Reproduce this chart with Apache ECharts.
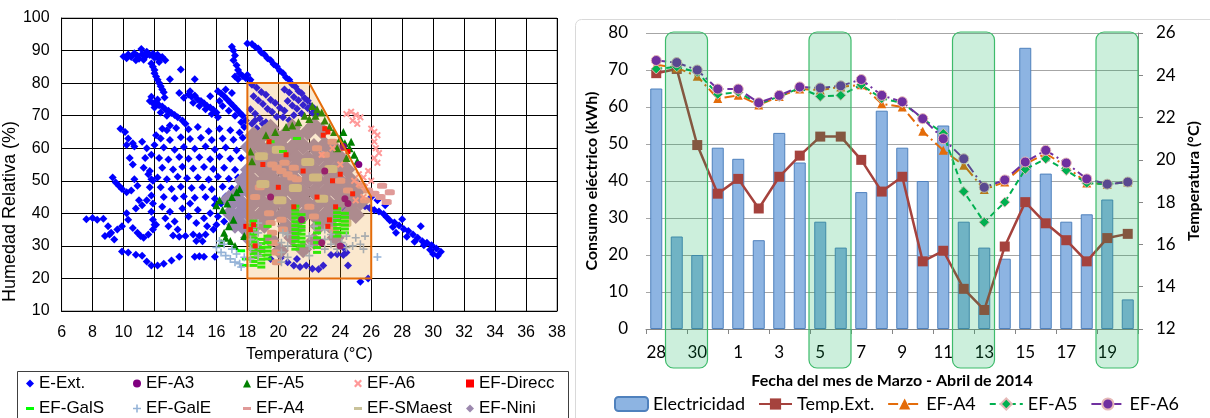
<!DOCTYPE html>
<html><head><meta charset="utf-8">
<script src="https://cdn.jsdelivr.net/npm/echarts@6/dist/echarts.min.js"></script>
<style>html,body{margin:0;padding:0;background:#fff}#c{width:1210px;height:418px}</style>
</head><body><div id="c"></div>
<script>
// ================= LEFT CHART DATA (Temperatura °C, Humedad Relativa %) =================
const eExt = [
[10.0,88.2],[10.2,87.6],[10.3,88.8],[10.5,88.0],[10.7,89.2],[10.9,88.4],[11.0,87.5],[11.2,88.9],[11.15,90.5],[11.4,88.1],[11.5,89.6],[11.7,88.6],[11.9,89.0],[12.0,87.8],[12.2,88.7],[12.3,87.3],[12.5,88.0],[11.3,87.2],[10.8,87.0],[12.7,87.0],
[11.8,86.0],[11.9,85.0],[12.0,84.0],[12.0,83.0],[12.1,82.0],[12.2,81.0],[12.3,80.0],[12.4,79.0],[12.5,78.0],[12.6,77.2],[12.3,86.5],[12.65,75.6],
[13.7,84.2],[13.0,81.2],[14.6,81.2],[13.6,77.0],[15.6,76.0],
[17.0,91.2],[17.1,90.0],[17.2,88.5],[17.1,87.0],[17.3,85.5],[17.4,84.0],[17.5,83.0],[17.7,82.2],[17.9,81.5],[18.0,82.5],[18.2,81.0],[18.0,92.2],[18.3,92.0],[17.2,82.0],[17.4,81.2],
[18.5,91.2],[18.7,90.6],[18.9,89.4],[19.1,88.8],[19.3,87.6],[19.5,87.0],[19.7,85.8],[19.9,85.1],[20.1,83.8],[20.3,83.0],[20.5,81.7],[20.7,81.0],[20.9,79.6],[21.1,78.9],[21.3,77.6],[21.5,76.9],[21.7,75.4],[21.9,74.6],[22.1,73.0],[22.3,72.3],[22.5,70.6],
[18.3,79.5],[18.6,78.6],[18.9,77.3],[19.2,76.4],[19.5,74.9],[19.8,73.9],[20.1,72.4],[20.4,71.5],
[18.4,76.0],[18.7,74.7],[19.0,73.6],[19.3,72.1],[19.6,71.1],[19.9,69.7],
[18.2,72.0],[18.5,70.6],[18.8,69.1],[18.3,67.5],[18.6,66.1],[18.2,64.0],[18.4,62.1],
[20.4,78.0],[20.7,77.1],[21.0,75.7],[21.3,74.7],[21.6,73.3],[21.9,72.3],[22.2,70.9],
[20.6,74.5],[20.9,73.1],[21.2,72.1],[21.5,70.7],[20.3,69.5],[20.7,68.6],[21.0,70.1],[19.2,68.0],[19.5,66.8],
[11.7,74.5],[11.9,73.8],[12.1,74.2],[12.3,73.2],[12.5,72.8],[12.7,72.0],[12.9,71.5],[13.1,70.8],[13.3,70.2],[12.0,72.5],[12.4,71.0],[12.8,70.0],[13.5,69.5],[13.8,68.5],[14.0,67.5],[11.8,75.8],[12.2,75.0],
[14.2,76.5],[14.4,75.8],[14.6,76.2],[14.8,75.0],[15.0,74.5],[15.2,73.8],[15.4,73.0],[15.6,72.5],[15.8,71.8],[16.0,71.0],[14.5,74.0],[14.9,73.0],[15.3,72.0],[15.7,70.5],[16.1,69.5],[14.3,77.5],[13.9,75.5],
[16.1,77.5],[16.3,76.8],[16.5,76.0],[16.7,75.0],[16.9,74.0],[17.1,73.0],[17.3,72.0],[17.5,71.0],[17.7,70.0],[17.9,68.5],[16.6,78.0],[17.0,77.0],[16.2,74.5],[16.4,73.0],[16.8,71.5],[17.2,70.0],[17.6,68.0],[17.8,66.5],
[9.8,66.0],[10.1,65.0],[10.3,63.0],[10.6,61.5],[10.2,61.0],[10.7,60.5],[10.4,57.0],[10.6,55.0],[11.2,62.0],[11.5,60.0],[11.8,58.0],[11.4,57.0],[12.0,61.0],[11.3,54.0],[11.6,52.0],[11.9,50.0],[10.7,50.5],[10.9,48.5],[10.5,47.0],
[9.3,51.0],[9.5,49.5],[9.7,48.5],[9.9,47.5],[10.2,46.5],[12.1,64.0],[12.5,66.0],[13.0,67.0],
[12.8,65.5],[13.4,66.2],[14.2,65.8],[14.8,66.5],[15.5,65.2],[16.2,66.0],[16.9,65.5],[17.5,64.8],
[12.4,63.0],[13.0,62.5],[13.7,63.4],[14.3,62.8],[15.0,63.2],[15.7,62.5],[16.4,63.0],[17.1,62.6],[17.7,63.2],
[12.6,60.2],[13.3,59.5],[13.9,60.4],[14.6,59.8],[15.3,60.5],[15.9,59.6],[16.6,60.2],[17.3,59.4],[17.9,60.0],
[12.3,57.0],[12.9,56.5],[13.6,57.3],[14.2,56.8],[14.9,57.2],[15.6,56.6],[16.2,57.4],[16.9,56.8],[17.6,57.0],
[12.5,54.0],[13.2,53.5],[13.8,54.3],[14.5,53.8],[15.2,54.2],[15.8,53.6],[16.5,54.0],[17.2,53.4],
[12.2,51.0],[12.8,50.5],[13.5,51.2],[14.1,50.8],[14.8,51.0],[15.5,50.4],[16.1,51.2],[16.8,50.6],[17.4,51.0],
[12.4,48.0],[13.1,47.5],[13.7,48.2],[14.4,47.8],[15.1,48.0],[15.7,47.4],[16.4,48.2],[17.0,47.6],
[12.6,45.0],[13.3,44.6],[13.9,45.2],[14.6,44.8],[15.3,45.0],[15.9,44.5],[16.6,45.2],
[11.7,53.0],[11.8,50.5],[11.7,48.0],[11.8,45.5],[11.9,43.0],[11.8,40.5],[11.9,38.0],[12.0,36.5],[11.5,44.0],[11.2,42.5],
[12.5,42.0],[13.0,40.5],[12.7,38.5],[13.3,37.5],[12.9,36.0],[13.5,35.0],[13.8,41.5],[14.3,43.0],[14.8,41.0],[14.2,39.0],[14.7,37.0],[15.2,38.5],[15.6,40.0],[15.9,42.5],[15.4,36.0],[15.8,35.0],[14.5,33.5],[14.0,33.0],[13.6,32.8],[13.2,33.2],[14.9,33.0],[15.3,33.5],[14.7,31.5],[15.1,31.4],[16.1,39.0],[16.0,36.5],[16.5,37.5],[16.7,40.0],[17.0,42.0],[16.3,43.0],
[7.6,38.2],[8.0,38.6],[8.3,38.0],[8.7,38.3],[9.0,36.0],[9.2,34.0],[9.4,32.0],[9.1,33.5],[9.6,35.0],[8.8,33.0],[9.9,36.0],[10.3,38.0],[10.6,35.5],[10.9,34.0],[11.1,33.0],[11.3,32.5],[11.6,33.5],[11.9,35.0],[12.1,36.5],[10.2,40.0],[10.8,41.5],[11.0,44.0],
[9.9,28.3],[10.3,28.0],[10.8,27.3],[11.2,27.0],[11.5,25.2],[11.8,24.0],[12.2,24.0],[12.6,24.5],[13.1,25.5],[13.6,26.7],[14.6,26.7],[14.9,26.8],[15.2,26.7],[15.9,26.7],
[20.2,26.5],[20.6,25.0],[21.0,24.0],[21.4,23.5],[21.8,24.0],[22.2,23.0],[22.6,22.8],[21.2,26.0],[20.8,35.0],[23.4,27.2],[23.8,27.4],[24.2,27.2],[24.5,24.0],[23.9,31.0],[24.2,29.5],[25.3,19.0],[25.8,20.0],[24.4,28.0],[22.9,24.0],[19.5,26.0],[24.3,41.0],[24.6,39.5],
[25.3,42.5],[25.6,42.2],[25.9,41.6],[26.2,41.0],[26.5,40.6],[26.8,39.8],[27.0,38.8],[27.2,37.8],[27.5,37.2],[27.4,35.8],[27.8,36.3],[28.1,35.2],[28.0,38.2],[28.4,34.6],[28.7,33.5],[28.3,32.8],[29.0,32.5],[29.2,36.0],[29.3,31.4],[29.6,31.0],[29.9,30.2],[30.2,29.2],[30.5,28.2],[30.0,27.5],[30.3,27.0],[29.8,28.8],[29.4,30.2],[28.8,31.3],[27.6,34.0],[26.0,45.0],[26.4,44.0],[26.9,42.5],
[18.1,60.0],[18.3,57.0],[18.1,54.0],[18.5,68.5],[19.0,67.5]
];
const efA3 = [[25.2,55],[24.5,43],[24.3,44.5],[23.0,53],[21.5,38],[24.0,30],[19.5,45],[22.8,31],[24.2,60.5]];
const efA5 = [[16.3,31],[16.6,32.5],[16.9,31.5],[16.5,34],[16.8,36],[17.1,38],[16.4,41],[16.7,43],[17.0,45],[17.3,46.5],[17.5,47.5],[17.8,33],[17.2,30],[16.2,44],[16.0,42.5],
[22.2,73],[22.5,72],[22.8,71],[22.4,70],[23.0,68.5],[23.3,66.5],[23.6,65],[24.0,63],[24.3,61.5],[24.6,60],[24.9,58],[25.1,56],[23.8,60],[24.4,57],[21.7,70],[21.3,68],[20.9,67],[20.5,66.5],[19.2,64],[19.8,65],[18.3,56],[18.2,59],[22.0,69],[24.7,62],[24.2,65]];
const efA6 = [[24.4,70.5],[24.7,71.2],[25.0,70.2],[25.3,69.5],[24.8,68.5],[25.1,67.5],[26.0,66.0],[26.2,65.0],[26.4,64.0],[26.2,62.0],[26.3,60.0],[26.5,58.5],[26.2,57.0],[26.4,55.5],[25.8,53.0],[25.5,51.0],[25.2,49.0],[25.6,48.0],[24.9,50.0],[25.2,52.0],[23.5,60.0],[24.0,55.0],[22.8,58.0],[25.0,44.0],[25.5,45.0],[26.0,50.0]];
const efDirecc = [[23.0,66],[23.2,65],[22.9,64],[24.2,60],[24.5,59],[23.2,36],[23.3,38],[24.8,46],[21.6,53],[18.2,35],[18.4,36.5],[20.0,48],[19.0,55],[21.0,42],[22.5,45],[23.5,50],[20.5,58],[18.5,30],[19.4,62],[24.0,52],[17.9,36],[23.7,42]];
const efGalS = [
[18.4,24],[18.4,25.2],[18.4,26.4],[18.4,27.6],[18.4,28.8],[18.4,30],[18.4,31.2],[18.4,32.4],[18.4,33.6],[18.4,35],[18.4,36.4],[18.4,37.6],
[18.9,23.5],[18.9,24.7],[18.9,25.9],[18.9,27.1],[18.9,28.3],[18.9,29.5],[18.9,30.7],[18.9,32],
[19.3,26],[19.3,27.2],[19.3,28.4],[19.3,29.6],[19.3,31],[19.3,33],[19.3,36],
[21.1,29],[21.1,30.2],[21.1,31.4],[21.1,32.6],[21.1,33.8],[21.1,35],[21.1,36.2],[21.1,37.4],[21.1,38.6],[21.1,39.8],[21.1,41],[21.1,42.2],
[21.5,30],[21.5,31.2],[21.5,32.4],[21.5,33.6],[21.5,34.8],[21.5,36],[21.5,37.2],[21.5,38.4],[21.5,39.6],
[22.5,28],[22.5,29.5],[22.5,31],[22.5,32.5],[22.5,34],[22.5,35.5],[22.5,37],
[23.8,33],[23.8,34.2],[23.8,35.4],[23.8,36.6],[23.8,37.8],[23.8,39],[23.8,40.2],[23.8,41.4],
[24.3,34],[24.3,35.2],[24.3,36.4],[24.3,37.6],[24.3,38.8],[24.3,40],
[20.3,59],[19.5,62],[21.2,63],[17.6,28.5],[17.8,24],[17.9,26]];
const efGalE = [[16.0,29.5],[16.3,28],[16.6,27],[16.9,26],[17.2,25],[17.5,24.5],[16.5,30.5],[17.0,29],[17.3,27.5],[16.2,31.5],[17.6,23.5],[17.8,26.5],
[18.2,26],[18.2,29],[18.2,32],[18.3,35],[18.7,27],[18.7,30.5],[18.7,34],[18.7,37],[20.2,25],[20.2,28],[20.2,31],[20.3,34],[20.6,26.5],[20.6,30],[20.6,33.5],
[22.0,27],[22.0,30],[22.0,33],[22.3,36],[23.0,29],[23.0,32],[23.0,35],[23.4,30.5],[23.4,33.5],[23.8,29],[24.1,31],[24.4,29.5],[24.4,33],[24.8,30],[25.0,32.5],[25.3,30.5],[25.6,33],[25.5,29],[26.4,26.6]];
const efA4 = [[19.6,55],[19.9,54],[20.2,53],[20.6,52],[20.9,51],[21.2,50.5],[20.4,55.5],[21.0,54],
[19.4,40],[19.5,37],[19.6,34],[19.7,31],[19.8,28],[19.9,25],[20.2,38],[20.3,35],
[18.5,45],[18.8,48],[22.5,60],[23.0,58],[23.5,62],[24.0,50],[24.5,47],[22.0,42],[22.3,39],[23.6,35],
[25.4,48.5],[25.8,47],[26.2,46],[26.6,45],[27.0,43.5],[26.7,48.5],[27.2,46.5],[25.6,44]];
const efSMaest = [[18.9,57.5],[21.9,55.8],[21.1,47.8],[23.4,53.6],[20.0,59.5],[22.8,44.5],[20.1,44],[24.3,37],[19.0,49],[22.4,51]];
const efNini = [
[18.4,64],[19.1,64.6],[19.8,63.8],[20.5,64.4],[21.2,63.9],[21.9,65],[22.3,67],[22.8,65.4],[19.5,66.3],[20.9,66.4],
[18.1,60.4],[18.8,60.7],[19.5,60.3],[20.2,60.6],[20.9,60.2],[21.6,60.7],[22.3,60.4],[23.0,61],[23.6,60],
[18.4,57.1],[19.1,56.8],[19.8,57.2],[20.5,56.9],[21.2,57.1],[21.9,56.7],[22.6,57.2],[23.3,56.9],[24.0,57],
[18.1,53.4],[18.8,53.7],[19.5,53.3],[20.2,53.6],[20.9,53.4],[21.6,53.7],[22.3,53.3],[23.0,53.6],[23.7,53.4],[24.4,53.5],
[17.7,50.1],[18.4,49.8],[19.1,50.2],[19.8,49.9],[20.5,50.1],[21.2,49.8],[21.9,50.2],[22.6,49.9],[23.3,50.1],[24.0,49.8],[24.7,50],
[17.4,46.4],[18.1,46.7],[18.8,46.3],[19.5,46.6],[20.2,46.4],[20.9,46.7],[21.6,46.3],[22.3,46.6],[23.0,46.4],[23.7,46.7],[24.4,46.3],[25.0,46.5],
[17.0,43.1],[17.7,42.8],[18.4,43.2],[19.1,42.9],[19.8,43.1],[20.5,42.8],[21.2,43.2],[21.9,42.9],[22.6,43.1],[23.3,42.8],[24.0,43.2],[24.7,42.9],[25.3,43.5],
[17.4,39.4],[18.1,39.7],[18.8,39.3],[19.5,39.6],[20.2,39.4],[20.9,39.7],[21.6,39.3],[22.3,39.6],[23.0,39.4],[23.7,39.7],[24.4,39.3],[25.0,39.5],
[17.7,36],[18.4,35.8],[19.1,36.5],[20.5,36],[21.2,35.5],[22.6,36],[23.3,36.5],
[18.1,32.5],[19.5,32],[20.9,32.5],[22.3,31.5],[23.7,32.5],
[18.6,29],[20.1,28.5],[21.6,29],[16.9,40],[17.2,36.5],[16.8,44.5]
];
// Comfort zone polygon vertices
const zoneT  = [18, 18, 22, 26, 26];
const zoneRH = [20, 80, 80, 45, 20];

// ================= RIGHT CHART DATA =================
const fechas = ['28','29','30','31','1','2','3','4','5','6','7','8','9','10','11','12','13','14','15','16','17','18','19','20'];
const electricidad = [65,25,20,49,46,24,53,45,29,22,37,59,49,40,55,29,22,19,76,42,29,31,35,8];
const tempExt = [24.1,24.3,20.7,18.4,19.1,17.7,19.2,20.2,21.1,21.1,20.0,18.5,19.2,15.2,15.7,13.9,12.9,15.9,18.0,17.0,16.2,15.2,16.3,16.5];
const tA4 = [24.5,24.35,23.95,22.9,23.05,22.6,23.0,23.35,23.3,23.45,23.55,22.65,22.5,21.35,20.45,19.75,18.6,18.95,19.8,20.3,19.7,18.9,18.85,18.95];
const tA5 = [24.3,24.4,24.15,23.1,23.2,22.65,23.0,23.4,23.0,23.05,23.55,22.9,22.7,21.95,21.25,18.5,17.05,18.0,19.55,20.05,19.5,18.9,18.85,18.95];
const tA6 = [24.7,24.6,24.25,23.35,23.35,22.7,23.05,23.45,23.4,23.5,23.8,23.05,22.75,21.95,21.0,20.05,18.7,19.05,19.9,20.45,19.85,19.1,18.85,18.95];
const finDeSemanaInicio = ['29','5','12','19'];
const finDeSemanaFin    = ['30','6','13','20'];

// ================= CHART =================
const SANS = 'Liberation Sans';
const CAL = 'Lato';
const X_SYM = 'path://M0,2L2,0L5,3L8,0L10,2L7,5L10,8L8,10L5,7L2,10L0,8L3,5Z';
const PLUS_SYM = 'path://M4,0H6V4H10V6H6V10H4V6H0V4H4Z';

function sc(name, data, symbol, size, color, z) {
  return {name, type:'scatter', xAxisIndex:0, yAxisIndex:0, data, symbol, symbolSize:size,
    itemStyle:{color, opacity:1}, z, emphasis:{disabled:true}, silent:true};
}

const leftLegendSpec = [
  ['E-Ext.',26,375,8,8,null],['EF-A3',133,375,8,8,null],['EF-A5',243,375,8,8,null],['EF-A6',354,375,8,8,null],['EF-Direcc',466,375,8,8,null],
  ['EF-GalS',26,400,8,3,'rect'],['EF-GalE',133,400,8,8,null],['EF-A4',243,400,8,3,'rect'],['EF-SMaest',354,400,8,3,'rect'],['EF-Nini',466,400,8,8,null]
];
const legends = leftLegendSpec.map(s => ({
  data:[s[5] ? {name:s[0], icon:s[5]} : s[0]], left:s[1], top:s[2], itemWidth:s[3], itemHeight:s[4], selectedMode:false,
  textStyle:{fontFamily:SANS, fontSize:17, color:'#000', lineHeight:17}, padding:0, itemGap:0
}));
legends.push({
  data:['Electricidad','R:Temp.Ext.','R:EF-A4','R:EF-A5','R:EF-A6'], left:614, top:395,
  itemWidth:33, itemHeight:14, itemGap:13, selectedMode:false, padding:0,
  formatter: n => n.replace('R:',''),
  textStyle:{fontFamily:CAL, fontSize:18, color:'#000'}
});

const weekendData = finDeSemanaInicio.map((s,i)=>[fechas.indexOf(s), fechas.indexOf(finDeSemanaFin[i])]);

const option = {
  animation:false,
  legend: legends,
  grid:[
    {left:60, top:18, width:497, height:293, show:true, borderColor:'#808080', borderWidth:1},
    {left:646, top:33, width:492, height:296}
  ],
  xAxis:[
    {type:'value', gridIndex:0, min:6, max:38, interval:2,
     axisLine:{show:true, lineStyle:{color:'#000'}}, axisTick:{show:false},
     axisLabel:{fontFamily:SANS, fontSize:16, color:'#000', margin:14},
     splitLine:{show:true, lineStyle:{color:'#000', width:1}},
     name:'Temperatura (°C)', nameLocation:'middle', nameGap:33,
     nameTextStyle:{fontFamily:SANS, fontSize:16.5, color:'#000'}},
    {type:'category', gridIndex:1, data:fechas, boundaryGap:true,
     axisLine:{show:true, lineStyle:{color:'#868686'}},
     axisTick:{show:true, interval:1, length:5, lineStyle:{color:'#868686'}},
     axisLabel:{interval:1, fontFamily:CAL, fontSize:17, color:'#000', margin:15},
     splitLine:{show:false},
     name:'Fecha del mes de Marzo - Abril de 2014', nameLocation:'middle', nameGap:44,
     nameTextStyle:{fontFamily:CAL, fontSize:16, fontWeight:'bold', color:'#000'}}
  ],
  yAxis:[
    {type:'value', gridIndex:0, min:10, max:100, interval:10,
     axisLine:{show:true, lineStyle:{color:'#000'}}, axisTick:{show:false},
     axisLabel:{fontFamily:SANS, fontSize:16, color:'#000', margin:12},
     splitLine:{show:true, lineStyle:{color:'#000', width:1}},
     name:'Humedad Relativa (%)', nameLocation:'middle', nameGap:38, nameRotate:90,
     nameTextStyle:{fontFamily:SANS, fontSize:18, color:'#000', padding:[0,94,0,0]}},
    {type:'value', gridIndex:1, min:0, max:80, interval:10,
     axisLine:{show:false}, axisTick:{show:false},
     axisLabel:{fontFamily:CAL, fontSize:17, color:'#000', margin:18},
     splitLine:{show:true, lineStyle:{color:'#A6A6A6', width:1}},
     name:'Consumo eléctrico (kWh)', nameLocation:'middle', nameGap:46, nameRotate:90,
     nameTextStyle:{fontFamily:CAL, fontSize:16, fontWeight:'bold', color:'#000'}},
    {type:'value', gridIndex:1, position:'right', min:12, max:26, interval:2,
     axisLine:{show:true, lineStyle:{color:'#868686'}},
     axisTick:{show:true, length:5, lineStyle:{color:'#868686'}},
     axisLabel:{fontFamily:CAL, fontSize:17, color:'#000', margin:18},
     splitLine:{show:false},
     name:'Temperatura (°C)', nameLocation:'middle', nameGap:48, nameRotate:90,
     nameTextStyle:{fontFamily:CAL, fontSize:16, fontWeight:'bold', color:'#000'}}
  ],
  graphic:[
    {type:'rect', left:15, top:369, silent:true, shape:{width:551, height:60}, style:{fill:'none', stroke:'#404040', lineWidth:1}},
    {type:'rect', left:573, top:17, silent:true, shape:{width:650, height:420, r:6}, style:{fill:'none', stroke:'#D9D9D9', lineWidth:1}}
  ],
  series:[
    sc('E-Ext.', eExt, 'diamond', 8, '#0000FF', 2),
    sc('EF-Nini', efNini, 'diamond', 18, '#9C88AE', 3),
    sc('EF-A4', efA4, 'roundRect', [10,6], '#E09A98', 4),
    sc('EF-SMaest', efSMaest, 'roundRect', [13,8], '#C9C29A', 4),
    sc('EF-A5', efA5, 'triangle', 8, '#008000', 5),
    sc('EF-A6', efA6, X_SYM, 7, '#FF9999', 5),
    sc('EF-GalS', efGalS, 'rect', [8,3], '#00FF00', 5),
    sc('EF-GalE', efGalE, PLUS_SYM, 8, '#95B3D7', 5),
    sc('EF-Direcc', efDirecc, 'rect', 5, '#FF0000', 6),
    sc('EF-A3', efA3, 'circle', 7, '#800080', 6),
    {type:'custom', xAxisIndex:0, yAxisIndex:0, z:10, silent:true, clip:false,
     data: zoneT.map((t,i)=>[t, zoneRH[i]]),
     renderItem:(params, api) => {
       if (params.dataIndex !== 0) return null;
       const pts = zoneT.map((t,i)=>api.coord([t, zoneRH[i]]));
       return {type:'polygon', shape:{points:pts},
               style:{fill:'rgba(236,150,30,0.22)', stroke:'#E46C0A', lineWidth:2}};
     }},
    // right chart
    {name:'Electricidad', type:'bar', xAxisIndex:1, yAxisIndex:1, data:electricidad, barWidth:12, z:2,
     itemStyle:{color:'#8DB4E2', borderColor:'#4F81BD', borderWidth:1}},
    {name:'R:Temp.Ext.', type:'line', xAxisIndex:1, yAxisIndex:2, data:tempExt, z:4,
     symbol:'rect', symbolSize:10, lineStyle:{color:'#A5423D', width:2.5},
     itemStyle:{color:'#A5423D'}},
    {name:'R:EF-A4', type:'line', xAxisIndex:1, yAxisIndex:2, data:tA4, z:5,
     symbol:'triangle', symbolSize:9, lineStyle:{color:'#E46C0A', width:2, type:[10,4,2,4]},
     itemStyle:{color:'#E46C0A'}},
    {name:'R:EF-A5', type:'line', xAxisIndex:1, yAxisIndex:2, data:tA5, z:6,
     symbol:'diamond', symbolSize:10, lineStyle:{color:'#00B050', width:2, type:[6,4]},
     itemStyle:{color:'#00B050', borderColor:'#E6B9B8', borderWidth:1}},
    {name:'R:EF-A6', type:'line', xAxisIndex:1, yAxisIndex:2, data:tA6, z:7,
     symbol:'circle', symbolSize:10, lineStyle:{color:'#7030A0', width:2, type:[10,4,2,4]},
     itemStyle:{color:'#7030A0', borderColor:'#E6B9B8', borderWidth:1}},
    {type:'custom', xAxisIndex:1, yAxisIndex:1, z:20, silent:true, clip:false,
     data: weekendData,
     renderItem:(params, api) => {
       const i0 = api.value(0), i1 = api.value(1);
       const band = api.size([1,0])[0];
       const pT = api.coord([i0, 80]);
       const pB = api.coord([i1, 0]);
       const x0 = pT[0] - band/2 - 1, x1 = pB[0] + band/2;
       const y0 = pT[1] - 1, y1 = pB[1] + 39;
       return {type:'rect', shape:{x:x0, y:y0, width:x1-x0, height:y1-y0, r:8},
               style:{fill:'rgba(0,176,80,0.2)', stroke:'#3DBB6B', lineWidth:1.2}};
     }}
  ]
};
const chart = echarts.init(document.getElementById('c'), null, {renderer:'canvas'});
chart.setOption(option);
</script>
</body></html>
